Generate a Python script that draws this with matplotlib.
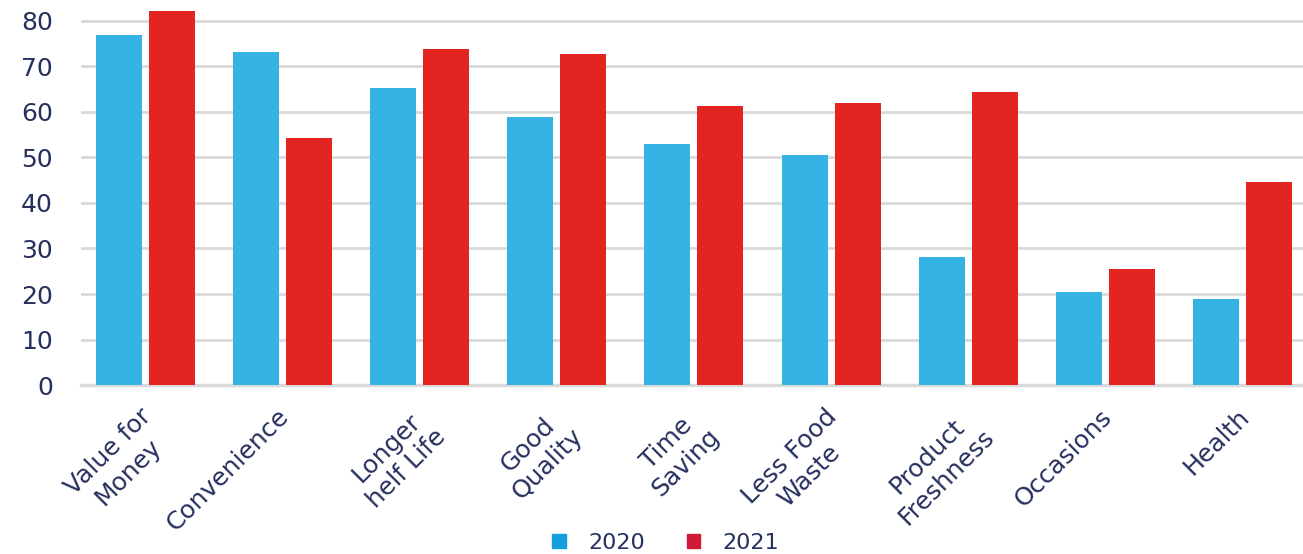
#!/usr/bin/env python3
# -*- coding: utf-8 -*-
"""
Reasons for buying: 2020 vs 2021, grouped bars.
"""

import numpy as np
import matplotlib
matplotlib.use("Agg")
import matplotlib.pyplot as plt
import matplotlib.transforms as mtransforms
from matplotlib.patches import Patch

# -------------------------------------------------
# DATA
# -------------------------------------------------
categories = [
    "Value for\nMoney", "Convenience", "Longer\nhelf Life", "Good\nQuality",
    "Time\nSaving", "Less Food\nWaste", "Product\nFreshness", "Occasions", "Health",
]
values_2020 = [76.9, 73.2, 65.3, 58.9, 53.0, 50.5, 28.1, 20.4, 18.9]
values_2021 = [82.2, 54.3, 73.8, 72.7, 61.3, 62.0, 64.4, 25.5, 44.6]
series_labels = ["2020", "2021"]
y_ticks = [0, 10, 20, 30, 40, 50, 60, 70, 80]

BLUE = "#35b3e4"
RED = "#e32521"
LEG_BLUE = "#129fdc"
LEG_RED = "#d01a38"
NAVY = "#26305e"
GRID = "#d9d9d9"

plt.rcParams["font.family"] = ["DejaVu Sans"]

fig = plt.figure(figsize=(13.03, 5.54), dpi=100)
ax = fig.add_axes([0.062, 0.305, 0.938, 0.695])

x = np.arange(len(categories))
w = 0.335
off = 0.193
ax.bar(x - off, values_2020, width=w, color=BLUE, zorder=3)
ax.bar(x + off, values_2021, width=w, color=RED, zorder=3)

ax.set_xlim(-0.47, 8.44)
ax.set_ylim(0, 84.6)
ax.set_yticks(y_ticks)
ax.grid(True, axis="y", color=GRID, linewidth=2.0, zorder=0)
ax.set_axisbelow(True)

for side in ["top", "right", "left"]:
    ax.spines[side].set_visible(False)
ax.spines["bottom"].set_color(GRID)
ax.spines["bottom"].set_linewidth(2.5)

ax.tick_params(axis="y", length=0, pad=20, labelsize=18, labelcolor=NAVY)
ax.tick_params(axis="x", length=0, pad=14, labelsize=18, labelcolor=NAVY)

ax.set_xticks(x)
ax.set_xticklabels(categories, rotation=45, ha="right", va="top",
                   rotation_mode="anchor", multialignment="center")
# nudge the slanted labels a little to the left, like the original
shift = mtransforms.ScaledTranslation(-6 / 100, 0, fig.dpi_scale_trans)
for lbl in ax.get_xticklabels():
    lbl.set_transform(lbl.get_transform() + shift)

handles = [Patch(color=LEG_BLUE), Patch(color=LEG_RED)]
fig.legend(handles, series_labels, loc="center", bbox_to_anchor=(0.511, 0.02),
           ncol=2, frameon=False, fontsize=16, labelcolor=NAVY,
           handlelength=0.6, handleheight=0.6, columnspacing=1.9, handletextpad=1.0)

fig.savefig("out.png", dpi=100)
